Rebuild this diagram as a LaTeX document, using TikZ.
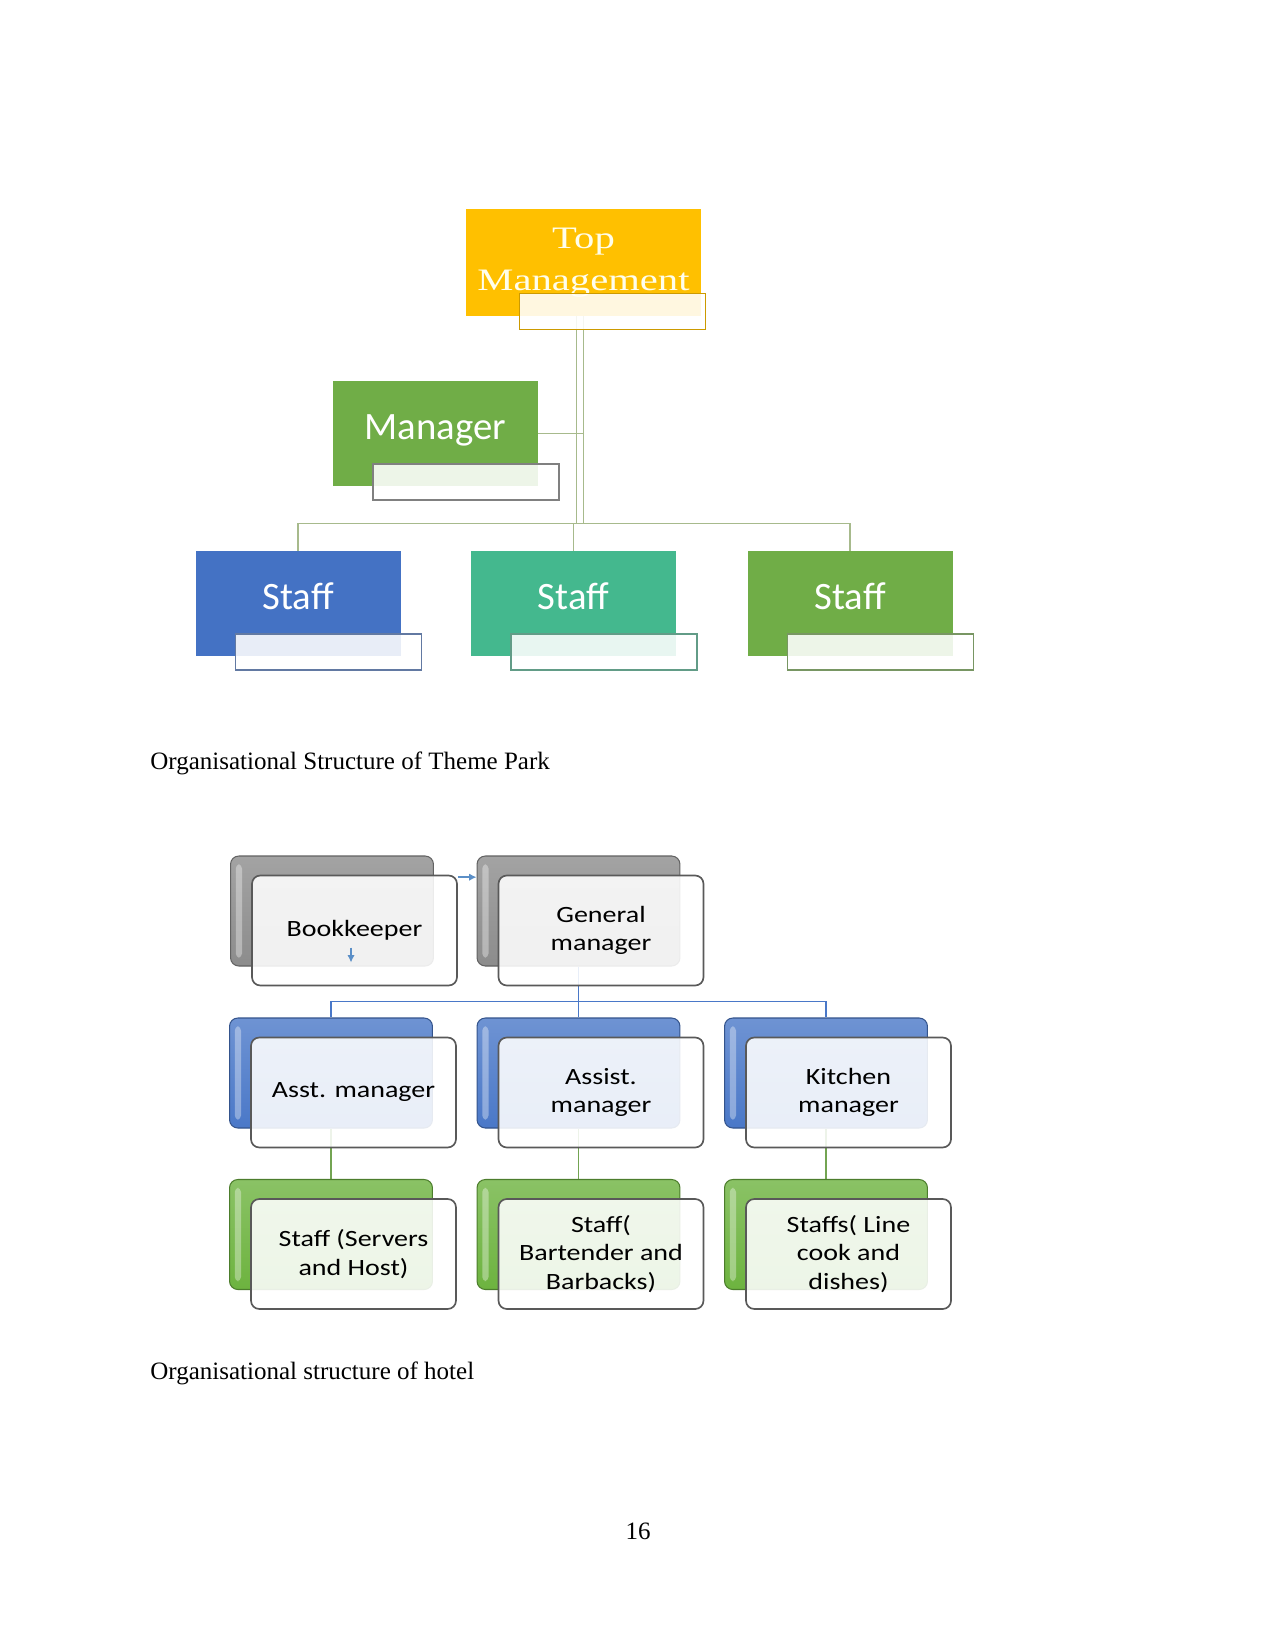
\documentclass[tikz,border=0pt]{standalone}
\usepackage{fontspec}
\setmainfont{Liberation Serif}
\newfontfamily\chartfont{Carlito}
\newfontfamily\hotelfont[FakeStretch=1.2]{Carlito}
\newfontfamily\topfont[FakeStretch=1.3]{Liberation Serif}
\usepackage{xcolor}
\usepackage{tikz}
\usetikzlibrary{positioning, calc, arrows.meta, backgrounds}

\definecolor{tmyellow}{HTML}{FFC000}
\definecolor{mgrgreen}{HTML}{70AD47}
\definecolor{staffblue}{HTML}{4472C4}
\definecolor{staffteal}{HTML}{44B88E}
\definecolor{linkolive}{HTML}{A7BA8C}
\definecolor{hotelblue}{HTML}{4A78C8}
\definecolor{hotelgreen}{HTML}{6DB33F}
\definecolor{hotelgray}{HTML}{8C8C8C}
\definecolor{arrowblue}{HTML}{5B8FC7}

\tikzset{
  chartbox/.style={minimum width=98.4pt, minimum height=50.4pt, inner sep=0pt, align=center,
    text height=13pt, text depth=7pt,
    text=white, font=\chartfont\fontsize{18.6}{22}\selectfont},
  subbox/.style={draw=#1, line width=0.6pt, fill=white, fill opacity=0.88,
    minimum width=89.3pt, minimum height=17.3pt, inner sep=0pt},
  link/.style={draw=linkolive, line width=0.8pt},
  backcard/.style={rounded corners=4pt, draw=#1!70!black, line width=0.5pt,
    top color=#1!80, bottom color=#1, minimum width=97.4pt, minimum height=52.8pt, inner sep=0pt,
    path picture={\fill[white, opacity=0.35, rounded corners=2pt]
      ($(path picture bounding box.north west)+(2.5pt,-4pt)$) rectangle
      ($(path picture bounding box.south west)+(5.5pt,4pt)$);}},
  frontcard/.style={rounded corners=4pt, draw=black!65, line width=0.8pt, fill=white,
    fill opacity=0.88, text opacity=1, minimum width=98.4pt, minimum height=52.8pt,
    inner sep=0pt, align=center, font=\hotelfont\fontsize{11.2}{13.7}\selectfont},
  hotellink/.style={draw=#1, line width=0.8pt},
  smallarrow/.style={draw=arrowblue, line width=0.7pt, -{Latex[length=3.5pt,width=3.5pt]}},
  caption/.style={inner sep=0pt, font=\fontsize{12}{14}\selectfont},
}

\begin{document}
\begin{tikzpicture}[x=0.48pt, y=-0.48pt]
  \useasboundingbox (0,0) rectangle (1275,1650);
  \begin{scope}[on background layer]
    \fill[white] (0,0) rectangle (1275,1650);
  \end{scope}

  % theme park chart
  \node[chartbox, fill=tmyellow, minimum width=112.8pt, minimum height=51.4pt,
    text height=, text depth=,
    text=white!92!yellow, font=\topfont\fontsize{15}{20}\selectfont] (topmgmt) at (583.5,262.5) {Top\\Management};
  \node[subbox=tmyellow!80!black] (topmgmt-sub) at (612.5,311.5) {};

  \node[chartbox, fill=mgrgreen] (mgr) at (435.5,433.5) {Manager};
  \node[subbox=gray] (mgr-sub) at (466,482) {};

  \foreach \i/\x/\col in {1/298/staffblue, 2/573.5/staffteal, 3/850/mgrgreen} {
    \node[chartbox, fill=\col] (staff\i) at (\x,603.5) {Staff};
    \node[subbox=\col!50!gray] (staff\i-sub) at (\x+30.5,652) {};
  }

  \begin{scope}[on background layer]
    \draw[link] (topmgmt.south) -- (topmgmt.south |- 0,524);
    \draw[link] ([xshift=-3.4pt]topmgmt.south) -- ([xshift=-3.4pt]topmgmt.south |- 0,524);
    \draw[link] (mgr.east) -- (mgr.east -| topmgmt.south);
    \draw[link] (staff1.north) -- ++(0,-27) -| (staff3.north);
    \draw[link] (staff2.north) -- ++(0,-27);
  \end{scope}

  \node[caption, anchor=base west] (cap-park) at (150,769) {Organisational Structure of Theme Park};

  % hotel chart
  \foreach \name/\x/\y/\col/\txt in {
      bookkeeper/332/911/hotelgray/Bookkeeper,
      gm/578.5/911/hotelgray/{General\\manager},
      asst/331/1073/hotelblue/{Asst. manager},
      assist/578.5/1073/hotelblue/{Assist.\\manager},
      kitchen/826/1073/hotelblue/{Kitchen\\manager},
      servers/331/1234.5/hotelgreen/{Staff (Servers\\and Host)},
      barstaff/578.5/1234.5/hotelgreen/{Staff(\\Bartender and\\Barbacks)},
      cooks/826/1234.5/hotelgreen/{Staffs( Line\\cook and\\dishes)}} {
    \node[backcard=\col] (\name-back) at (\x,\y) {};
    \node[frontcard] (\name) at ($(\name-back)+(22.5,19.5)$) {\txt};
  }

  \begin{scope}[on background layer]
    \draw[hotellink=hotelblue] (gm-back.south) -- ++(0,35) -| (asst-back.north);
    \draw[hotellink=hotelblue] (gm-back.south) -- ++(0,35) -| (kitchen-back.north);
    \draw[hotellink=hotelblue] (gm-back.south) -- (assist-back.north);
    \draw[hotellink=hotelgreen!70!gray] (asst-back.south) -- (servers-back.north);
    \draw[hotellink=hotelgreen!70!gray] (assist-back.south) -- (barstaff-back.north);
    \draw[hotellink=hotelgreen!70!gray] (kitchen-back.south) -- (cooks-back.north);
  \end{scope}

  \draw[smallarrow] ([yshift=-1.2pt]bookkeeper.north east) -- ([yshift=-1.2pt]bookkeeper.north east -| gm-back.west);
  \draw[smallarrow] ($(bookkeeper)+(-3.5,17)$) -- ++(0,15);

  \node[caption, anchor=base west] (cap-hotel) at (150,1379) {Organisational structure of hotel};
  \node[caption, anchor=base] (pagenum) at (638,1539) {16};
\end{tikzpicture}
\end{document}
